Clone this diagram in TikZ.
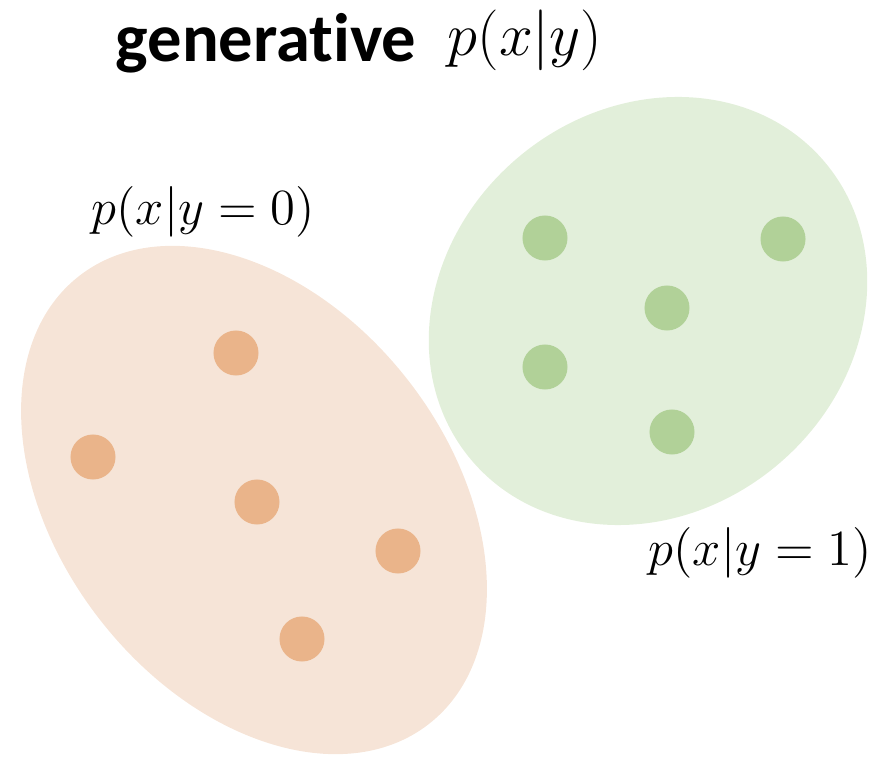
\documentclass[tikz,border=0pt]{standalone}
\usepackage{amsmath}
\usepackage{fontspec}
\usepackage{xcolor}
\usetikzlibrary{positioning,shapes.geometric}
\newfontfamily\headfont[Ligatures={NoCommon,NoDiscretionary}]{Carlito}
\definecolor{orangebg}{HTML}{F6E4D7}
\definecolor{orangept}{HTML}{EAB48A}
\definecolor{greenbg}{HTML}{E2EFDA}
\definecolor{greenpt}{HTML}{B1D198}
\begin{document}
\begin{tikzpicture}[
  x=0.01cm,y=-0.01cm,
  blob/.style={ellipse,inner sep=0pt,draw=none},
  pt/.style={circle,minimum size=0.45cm,inner sep=0pt},
  lbl/.style={inner sep=0pt,anchor=base west,font=\fontsize{14}{16}\selectfont}
]
\useasboundingbox (0,0) rectangle (876,758);
% class clusters
\node[blob,fill=orangebg,minimum width=5.68cm,minimum height=3.90cm,rotate=-52] (c0) at (254,500) {};
\node[blob,fill=greenbg,minimum width=4.62cm,minimum height=4.02cm,rotate=40] (c1) at (648,311) {};
% samples y=0
\node[pt,fill=orangept] (o1) at (236,353) {};
\node[pt,fill=orangept] (o2) at (93,457) {};
\node[pt,fill=orangept] (o3) at (257,502) {};
\node[pt,fill=orangept] (o4) at (398,551) {};
\node[pt,fill=orangept] (o5) at (302,639) {};
% samples y=1
\node[pt,fill=greenpt] (g1) at (545,238) {};
\node[pt,fill=greenpt] (g2) at (783,239) {};
\node[pt,fill=greenpt] (g3) at (667,308) {};
\node[pt,fill=greenpt] (g4) at (545,367) {};
\node[pt,fill=greenpt] (g5) at (672,432) {};
% labels
\node[lbl,font=\headfont\bfseries\fontsize{19.5}{23}\selectfont] (title) at (115,62) {generative};
\node[lbl,font=\fontsize{18.4}{22}\selectfont] (pxy) at (447,56) {$p(x|y)$};
\node[lbl] (l0) at (91,225) {$p(x|y=0)$};
\node[lbl] (l1) at (648,565) {$p(x|y=1)$};
\end{tikzpicture}
\end{document}
